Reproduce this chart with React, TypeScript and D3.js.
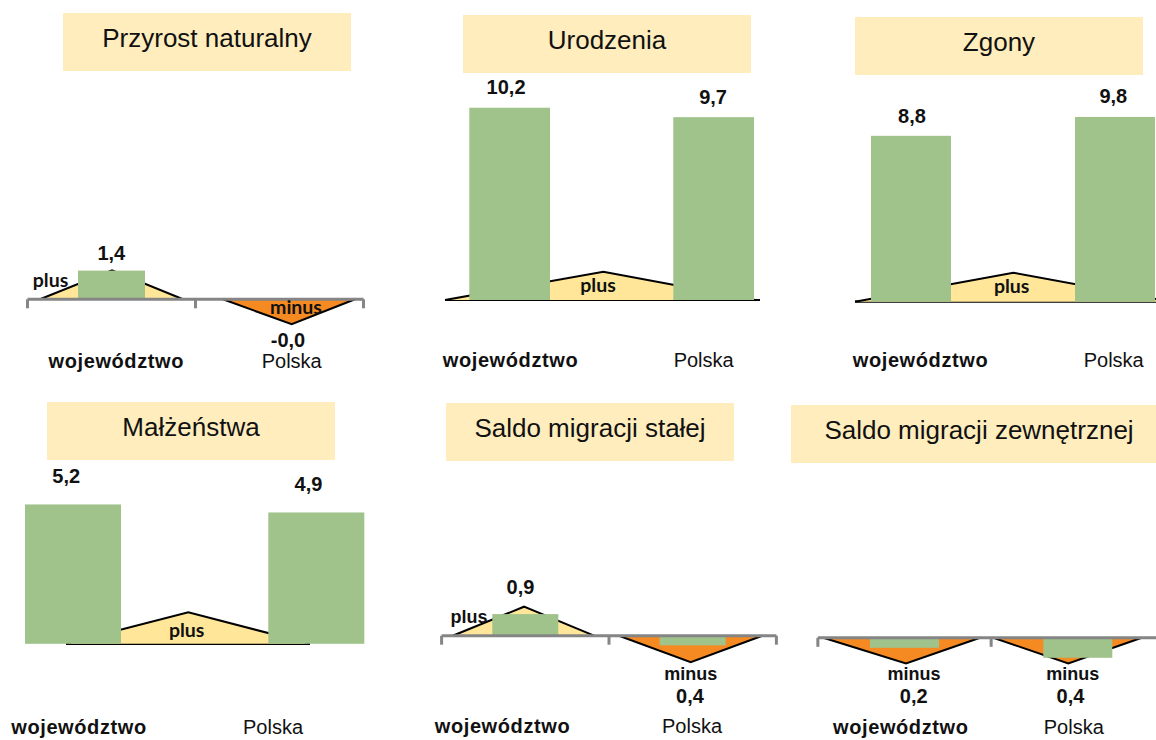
import React from 'react';
import * as d3 from 'd3';

// ---------- DATA ----------
const titles = [
  'Przyrost naturalny',
  'Urodzenia',
  'Zgony',
  'Małżeństwa',
  'Saldo migracji stałej',
  'Saldo migracji zewnętrznej',
];
const categories = ['województwo', 'Polska'];
const wojewodztwoValues = [1.4, 10.2, 8.8, 5.2, 0.9, -0.2];
const polskaValues = [-0.02, 9.7, 9.8, 4.9, -0.4, -0.4];
const wojewodztwoLabels = ['1,4', '10,2', '8,8', '5,2', '0,9', '0,2'];
const polskaLabels = ['-0,0', '9,7', '9,8', '4,9', '0,4', '0,4'];
// indicator words: per category (2 entries) or single middle one
const indicatorWords = [
  ['plus', 'minus'],
  ['plus'],
  ['plus'],
  ['plus'],
  ['plus', 'minus'],
  ['minus', 'minus'],
];

// ---------- LAYOUT ----------
type Tri = { dx: number; left: number; right: number; h: number; lx: number; ly: number };
type Layout = {
  box: { x: number; y: number; w: number; h: number; tx?: number };
  L: number; R: number; bw: number;
  zeroY: number; ppu: number;
  axis: 'gray' | 'black';
  axisX?: [number, number];
  tris: Tri[];
  middle: boolean;
  valOff: [number, number][];
  catDx: number[]; catY: number;
  indFont: 'lato' | 'arial';
};

const layouts: Layout[] = [
  {
    box: { x: 63, y: 13, w: 288, h: 58 },
    L: 78, R: 313, bw: 67, zeroY: 299.3, ppu: 20.5, axis: 'gray',
    tris: [
      { dx: 0.5, left: 72, right: 71, h: 29, lx: -61.5, ly: 16.7 },
      { dx: 12.2, left: 68.7, right: 63.3, h: -25, lx: 4.3, ly: -10 },
    ],
    middle: false,
    valOff: [[-0.2, -11], [8.5, 47.3]],
    catDx: [4.8, 12.2], catY: 367.7, indFont: 'lato',
  },
  {
    box: { x: 463, y: 15, w: 288, h: 58 },
    L: 469.3, R: 754, bw: 80.7, zeroY: 300, ppu: 18.85, axis: 'black', axisX: [445, 760],
    tris: [{ dx: -8.3, left: 158.3, right: 151.7, h: 28.3, lx: -5.3, ly: 20 }],
    middle: true,
    valOff: [[-3.6, -13.7], [-0.6, -13.2]],
    catDx: [0.85, -10], catY: 366.7, indFont: 'lato',
  },
  {
    box: { x: 855, y: 17, w: 288, h: 58 },
    L: 871, R: 1155, bw: 80, zeroY: 301.7, ppu: 18.85, axis: 'black', axisX: [855, 1160],
    tris: [{ dx: 0.3, left: 158.3, right: 158, h: 29, lx: -1.6, ly: 20.6 }],
    middle: true,
    valOff: [[1, -12.5], [-1.7, -13.7]],
    catDx: [9.5, -1.3], catY: 367.3, indFont: 'lato',
  },
  {
    box: { x: 47, y: 402, w: 288, h: 58 },
    L: 25, R: 364.3, bw: 96, zeroY: 643.8, ppu: 26.8, axis: 'black', axisX: [66, 310],
    tris: [{ dx: -6.35, left: 122.3, right: 121.7, h: 31.4, lx: -1.6, ly: 25 }],
    middle: true,
    valOff: [[-6.8, -21.3], [-7.8, -21]],
    catDx: [6, -43.3], catY: 734.3, indFont: 'lato',
  },
  {
    box: { x: 446, y: 403, w: 288, h: 58 },
    L: 492.3, R: 725.7, bw: 66, zeroY: 635.7, ppu: 24, axis: 'gray',
    tris: [
      { dx: -1.3, left: 71.3, right: 70, h: 29, lx: -55, ly: 16 },
      { dx: -2, left: 71.7, right: 71.6, h: -26.6, lx: 0.1, ly: 17.7 },
    ],
    middle: false,
    valOff: [[-4.8, -20.1], [-2.7, 58]],
    catDx: [-22.8, -0.7], catY: 733.3, indFont: 'arial',
  },
  {
    box: { x: 791, y: 405, w: 380, h: 58, tx: 979 },
    L: 870, R: 1112.3, bw: 69, zeroY: 637.8, ppu: 50, axis: 'gray',
    tris: [
      { dx: 1.5, left: 82.7, right: 74, h: -25.6, lx: 8, ly: 16.7 },
      { dx: -9.5, left: 75, right: 73.4, h: -25.6, lx: 4.4, ly: 16.7 },
    ],
    middle: false,
    valOff: [[9.2, 55.5], [-7.3, 45.5]],
    catDx: [-3.7, -4], catY: 734, indFont: 'arial',
  },
];

const COLORS = {
  titleBg: '#FFEDBD',
  green: '#A0C28B',
  yellow: '#FFE699',
  orange: '#F58A23',
  gray: '#858585',
};
const ARIAL = '"Liberation Sans", Arial, sans-serif';
const LATO = 'Lato, "Noto Sans", sans-serif';

function Panel({ i }: { i: number }) {
  const lay = layouts[i];
  const values = [wojewodztwoValues[i], polskaValues[i]];
  const labels = [wojewodztwoLabels[i], polskaLabels[i]];
  const span = lay.R - lay.L;
  const step = span - lay.bw;
  const pInner = 1 - lay.bw / step;
  const x = d3.scaleBand<string>().domain(categories).range([lay.L, lay.R]).paddingInner(pInner).paddingOuter(0);
  const bw = x.bandwidth();
  const y = d3.scaleLinear().domain([0, 1]).range([lay.zeroY, lay.zeroY - lay.ppu]);
  const centers = categories.map((c) => (x(c) as number) + bw / 2);
  const st = x.step();
  const line = d3.line<[number, number]>();

  const tris = lay.tris.map((t, k) => {
    const cx = lay.middle ? (centers[0] + centers[1]) / 2 : centers[k];
    const ax = cx + t.dx;
    const ay = lay.zeroY - t.h;
    return { ...t, ax, ay, x0: ax - t.left, x1: ax + t.right, word: indicatorWords[i][k], sign: t.h > 0 ? 1 : -1 };
  });

  const ticks = lay.axis === 'gray' ? [0, 1, 2].map((k) => centers[0] - st / 2 + k * st) : [];
  const box = lay.box;
  const tx = box.tx ?? box.x + box.w / 2;

  return (
    <g>
      <rect x={box.x} y={box.y} width={box.w} height={box.h} fill={COLORS.titleBg} />
      <text x={tx} y={box.y + 34} textAnchor="middle" fontFamily={ARIAL} fontSize={26} fill="#111">
        {titles[i]}
      </text>

      {lay.axis === 'black' && lay.axisX && (
        <path d={line([[lay.axisX[0], lay.zeroY], [lay.axisX[1], lay.zeroY]]) || ''} stroke="#000" strokeWidth={2.2} />
      )}

      {tris.map((t, k) => (
        <g key={'t' + k}>
          <path
            d={line([[t.x0, lay.zeroY], [t.ax, t.ay], [t.x1, lay.zeroY]]) + 'Z'}
            fill={t.sign > 0 ? COLORS.yellow : COLORS.orange}
            stroke="none"
          />
          <path d={line([[t.x0, lay.zeroY], [t.ax, t.ay], [t.x1, lay.zeroY]]) || ''} fill="none" stroke="#000" strokeWidth={2} />
        </g>
      ))}

      {categories.map((c, k) => {
        const v = values[k];
        const y0 = y(0);
        const y1 = y(v);
        return (
          <rect key={'b' + k} x={x(c)} y={Math.min(y0, y1)} width={bw} height={Math.max(0.6, Math.abs(y1 - y0))} fill={COLORS.green} />
        );
      })}

      {lay.axis === 'gray' && (
        <g stroke={COLORS.gray} strokeWidth={3} fill="none">
          <path d={line([[ticks[0], lay.zeroY], [ticks[2], lay.zeroY]]) || ''} />
          {ticks.map((tk, k) => (
            <path key={'tk' + k} d={line([[tk, lay.zeroY], [tk, lay.zeroY + 9]]) || ''} />
          ))}
        </g>
      )}

      {tris.map((t, k) => (
        <text
          key={'w' + k}
          x={t.ax + t.lx}
          y={t.ay + t.ly}
          textAnchor="middle"
          fontFamily={lay.indFont === 'lato' ? LATO : ARIAL}
          fontWeight={700}
          fontSize={lay.indFont === 'lato' ? 19.5 : 18}
          fill="#111"
        >
          {t.word}
        </text>
      ))}

      {categories.map((c, k) => (
        <text
          key={'v' + k}
          x={centers[k] + lay.valOff[k][0]}
          y={y(values[k]) + lay.valOff[k][1]}
          textAnchor="middle"
          fontFamily={ARIAL}
          fontWeight={700}
          fontSize={20}
          fill="#111"
        >
          {labels[k]}
        </text>
      ))}

      {categories.map((c, k) => (
        <text
          key={'c' + k}
          x={centers[k] + lay.catDx[k]}
          y={lay.catY}
          textAnchor="middle"
          fontFamily={ARIAL}
          fontWeight={k === 0 ? 700 : 400}
          letterSpacing={k === 0 ? 0.6 : 0}
          fontSize={20}
          fill="#111"
        >
          {c}
        </text>
      ))}
    </g>
  );
}

export default function App() {
  return (
    <svg
      width={1156}
      height={740}
      viewBox="0 0 1156 740"
      style={{ position: 'absolute', left: 0, top: 0, background: '#fff' }}
    >
      <rect x={0} y={0} width={1156} height={740} fill="#fff" />
      {titles.map((_, i) => (
        <Panel key={i} i={i} />
      ))}
    </svg>
  );
}
